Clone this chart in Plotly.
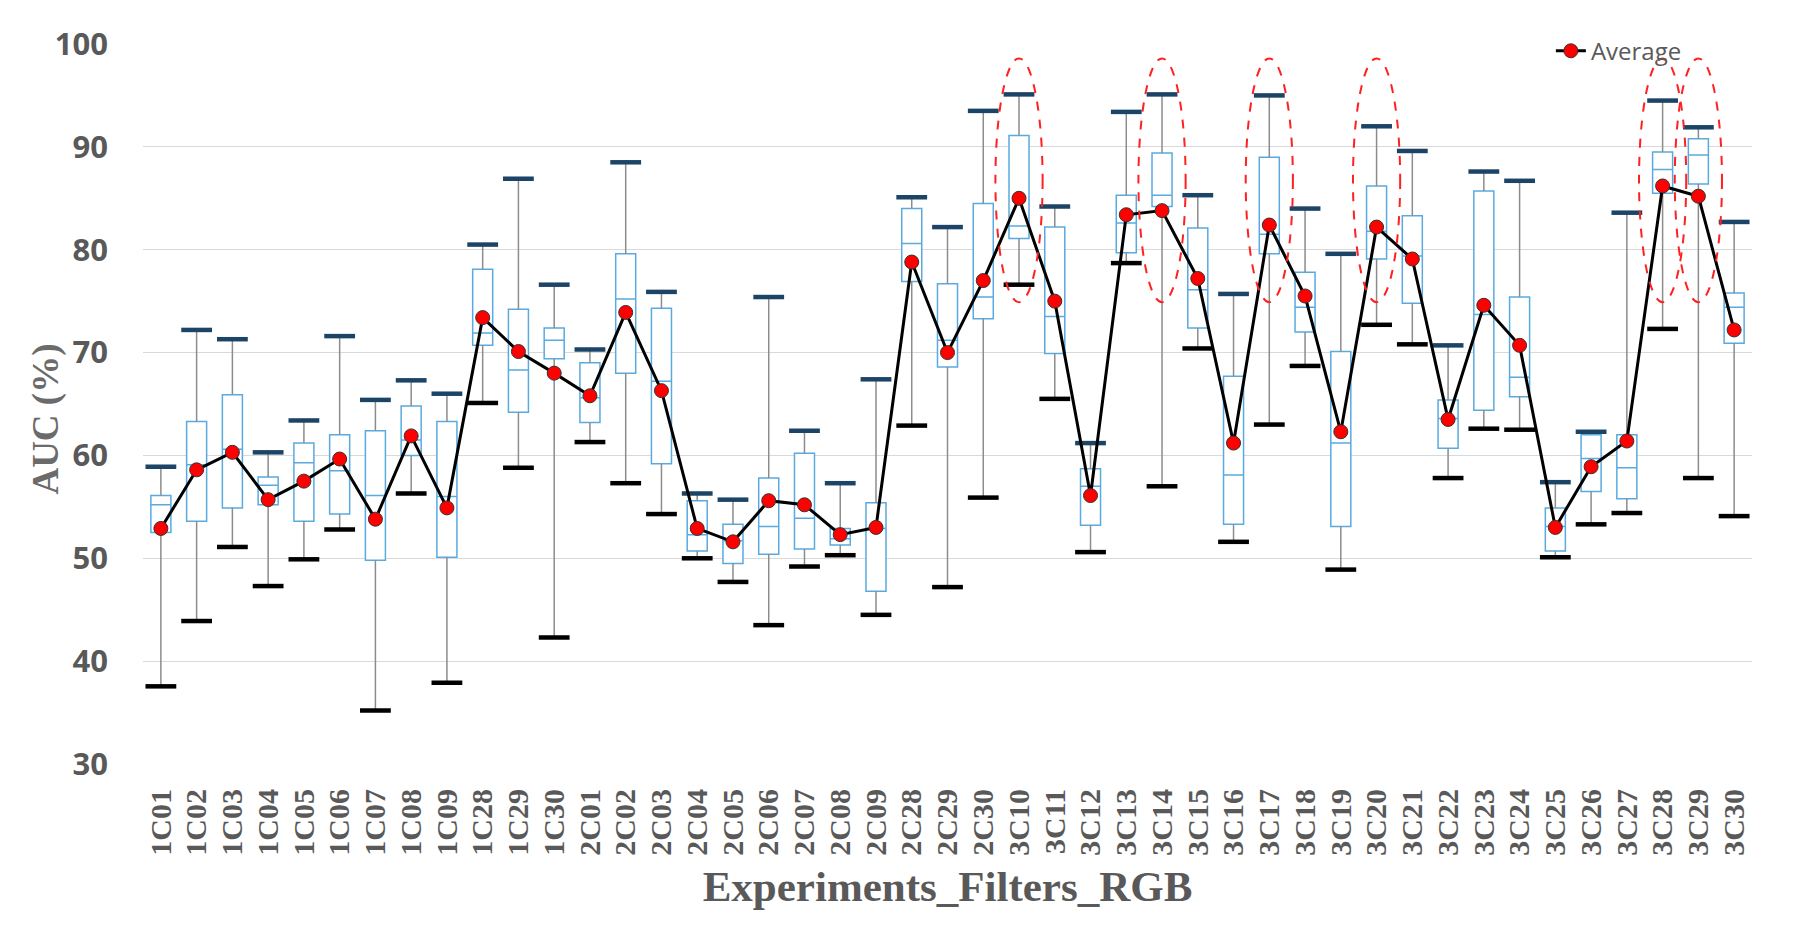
import plotly.graph_objects as go

cats = ["1C01", "1C02", "1C03", "1C04", "1C05", "1C06", "1C07", "1C08", "1C09",
        "1C28", "1C29", "1C30",
        "2C01", "2C02", "2C03", "2C04", "2C05", "2C06", "2C07", "2C08", "2C09",
        "2C28", "2C29", "2C30",
        "3C10", "3C11", "3C12", "3C13", "3C14", "3C15", "3C16", "3C17", "3C18", "3C19",
        "3C20", "3C21", "3C22", "3C23", "3C24", "3C25", "3C26", "3C27", "3C28", "3C29", "3C30"]

max_v = [58.9, 72.2, 71.3, 60.3, 63.4, 71.6, 65.4, 67.3, 66.0, 80.5, 86.9, 76.6,
         70.3, 88.5, 75.9, 56.3, 55.7, 75.4, 62.4, 57.3, 67.4, 85.1, 82.2, 93.5,
         95.1, 84.2, 61.2, 93.4, 95.1, 85.3, 75.7, 95.0, 84.0, 79.6, 92.0, 89.6,
         70.7, 87.6, 86.7, 57.4, 62.3, 83.6, 94.5, 91.9, 82.7]
q3_v = [56.1, 63.3, 65.9, 57.9, 61.2, 62.0, 62.4, 64.8, 63.3, 78.1, 74.2, 72.4,
        69.0, 79.6, 74.3, 55.6, 53.3, 57.8, 60.2, 52.9, 55.4, 84.0, 76.7, 84.5,
        91.1, 82.2, 58.7, 85.3, 89.4, 82.1, 67.7, 89.0, 77.8, 70.1, 86.2, 83.3,
        65.4, 85.7, 75.4, 54.9, 62.0, 62.0, 89.5, 90.8, 75.8]
median_v = [55.2, 59.1, 60.6, 57.1, 59.3, 58.5, 56.1, 61.5, 56.0, 71.9, 68.3, 71.2,
            65.6, 75.2, 67.2, 52.3, 51.7, 53.1, 53.9, 51.9, 52.9, 80.6, 71.2, 75.4,
            82.3, 73.5, 57.0, 82.6, 85.3, 76.1, 58.1, 81.5, 74.4, 61.2, 81.8, 79.4,
            63.6, 73.7, 67.6, 53.1, 59.7, 58.8, 87.8, 89.2, 74.4]
q1_v = [52.5, 53.6, 54.9, 55.2, 53.6, 54.3, 49.8, 60.0, 50.1, 70.7, 64.2, 69.4,
        63.2, 68.0, 59.2, 50.7, 49.5, 50.4, 50.9, 51.3, 46.8, 76.9, 68.6, 73.3,
        81.1, 69.9, 53.2, 79.7, 84.2, 72.4, 53.3, 79.6, 72.0, 53.1, 79.1, 74.8,
        60.7, 64.4, 65.7, 50.7, 56.5, 55.8, 85.5, 86.4, 70.9]
min_v = [37.55, 43.9, 51.1, 47.3, 49.9, 52.8, 35.2, 56.3, 37.9, 65.1, 58.8, 42.3,
         61.3, 57.3, 54.3, 50.0, 47.7, 43.5, 49.2, 50.3, 44.5, 62.9, 47.2, 55.9,
         76.6, 65.5, 50.6, 78.7, 57.0, 70.4, 51.6, 63.0, 68.7, 48.9, 72.7, 70.8,
         57.8, 62.6, 62.5, 50.1, 53.3, 54.4, 72.3, 57.8, 54.1]
avg_v = [52.9, 58.6, 60.3, 55.7, 57.5, 59.65, 53.8, 61.9, 54.9, 73.4, 70.1, 68.0,
         65.8, 73.9, 66.3, 52.9, 51.6, 55.6, 55.2, 52.3, 53.0, 78.8, 70.0, 77.0,
         85.0, 75.0, 56.1, 83.4, 83.8, 77.2, 61.2, 82.4, 75.5, 62.3, 82.2, 79.1,
         63.5, 74.6, 70.7, 53.0, 58.9, 61.4, 86.2, 85.2, 72.2]

highlighted = ["3C10", "3C14", "3C17", "3C20", "3C28", "3C29"]
ellipse_lo, ellipse_hi = 74.9, 98.6

GRAY = "#595959"

fig = go.Figure()

# whiskers (min->q1 and q3->max)
wx, wy = [], []
for c, lo, a, b, hi in zip(cats, min_v, q1_v, q3_v, max_v):
    wx += [c, c, None, c, c, None]
    wy += [lo, a, None, b, hi, None]
fig.add_trace(go.Scatter(x=wx, y=wy, mode="lines", line=dict(color="#8C8C8C", width=1.5),
                         showlegend=False, hoverinfo="skip"))

# boxes
fig.add_trace(go.Box(x=cats, q1=q1_v, median=median_v, q3=q3_v,
                     lowerfence=q1_v, upperfence=q3_v,
                     fillcolor="white", line=dict(color="#5AAAE0", width=1.5),
                     whiskerwidth=0, boxpoints=False, showlegend=False))

# caps
fig.add_trace(go.Scatter(x=cats, y=max_v, mode="markers", showlegend=False,
                         marker=dict(symbol="line-ew", size=22,
                                     line=dict(color="#1C4466", width=4.5))))
fig.add_trace(go.Scatter(x=cats, y=min_v, mode="markers", showlegend=False,
                         marker=dict(symbol="line-ew", size=22,
                                     line=dict(color="#000000", width=4.5))))

# average line
fig.add_trace(go.Scatter(x=cats, y=avg_v, mode="lines+markers", name="Average",
                         line=dict(color="black", width=3),
                         marker=dict(color="#FF0000", size=14,
                                     line=dict(color="#333333", width=1))))

shapes = []
for c in highlighted:
    i = cats.index(c)
    shapes.append(dict(type="circle", xref="x", yref="y",
                       x0=i - 0.66, x1=i + 0.66, y0=ellipse_lo, y1=ellipse_hi,
                       line=dict(color="#FF2020", width=2, dash="dash"), layer="above"))

fig.update_layout(
    width=1807, height=934,
    margin=dict(l=143, r=55, t=44, b=170),
    plot_bgcolor="white", paper_bgcolor="white",
    boxgap=0.2,
    shapes=shapes,
    showlegend=True,
    legend=dict(x=0.875, y=0.99, xanchor="left", yanchor="middle",
                bgcolor="rgba(0,0,0,0)", font=dict(family="Open Sans", size=24, color=GRAY)),
    annotations=[dict(text="AUC (%)", textangle=-90, xref="paper", yref="paper",
                      x=-0.060, y=0.479, xanchor="center", yanchor="middle", showarrow=False,
                      font=dict(family="Liberation Serif", size=37, color="#6B6B6B", weight="bold"))],
)

fig.update_yaxes(range=[30, 100], dtick=10, showgrid=True, gridcolor="#D9D9D9", gridwidth=1,
                 zeroline=False, showline=False, ticks="", ticklabelstandoff=34,
                 tickfont=dict(family="Open Sans", size=31, color=GRAY, weight="bold"))
fig.update_xaxes(type="category", categoryorder="array", categoryarray=cats,
                 tickmode="array", tickvals=cats, ticktext=cats,
                 range=[-0.5, len(cats) - 0.5],
                 showgrid=False, zeroline=False, showline=False, tickangle=-90, ticks="",
                 ticklabelstandoff=18,
                 tickfont=dict(family="Liberation Serif", size=30, color=GRAY, weight="bold"),
                 title=dict(text="Experiments_Filters_RGB", standoff=16,
                            font=dict(family="Liberation Serif", size=43, color=GRAY, weight="bold")))

fig.write_html("out.html")
